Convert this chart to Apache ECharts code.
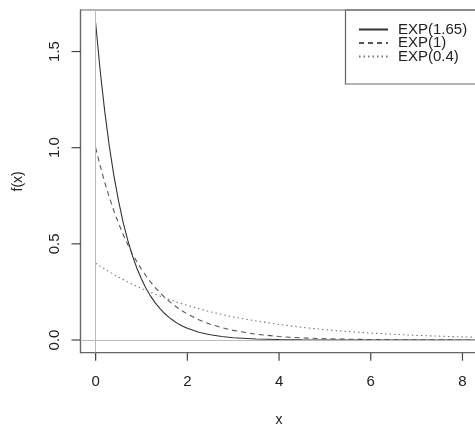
<!DOCTYPE html>
<html>
<head>
<meta charset="utf-8">
<script src="https://cdn.jsdelivr.net/npm/echarts@6/dist/echarts.min.js"></script>
<style>
html,body{margin:0;padding:0;background:#fff;}
#chart{width:475px;height:424px;}
</style>
</head>
<body>
<div id="chart"></div>
<script>
// x positions of the read-off points
var xValues = [0, 0.1, 0.2, 0.3, 0.4, 0.5, 0.6, 0.7, 0.8, 0.9, 1.0, 1.1, 1.2, 1.3, 1.4, 1.5, 1.6, 1.7, 1.8, 1.9, 2.0, 2.25, 2.5, 2.75, 3, 3.5, 4, 4.5, 5, 5.5, 6, 6.5, 7, 7.5, 8, 8.5];
// density values
var exp165 = [1.65, 1.399, 1.186, 1.005, 0.852, 0.723, 0.612, 0.519, 0.440, 0.373, 0.317, 0.268, 0.228, 0.193, 0.164, 0.139, 0.118, 0.100, 0.084, 0.072, 0.061, 0.040, 0.027, 0.018, 0.012, 0.0052, 0.0023, 0.0010, 0.0004, 0.0002, 0.0001, 0, 0, 0, 0, 0];
var exp1 = [1, 0.905, 0.819, 0.741, 0.670, 0.607, 0.549, 0.497, 0.449, 0.407, 0.368, 0.333, 0.301, 0.273, 0.247, 0.223, 0.202, 0.183, 0.165, 0.150, 0.135, 0.105, 0.082, 0.064, 0.050, 0.030, 0.018, 0.011, 0.0067, 0.0041, 0.0025, 0.0015, 0.0009, 0.0006, 0.0003, 0.0002];
var exp04 = [0.4, 0.384, 0.369, 0.355, 0.341, 0.327, 0.315, 0.302, 0.290, 0.279, 0.268, 0.258, 0.248, 0.238, 0.229, 0.220, 0.211, 0.203, 0.195, 0.187, 0.180, 0.163, 0.147, 0.133, 0.120, 0.099, 0.081, 0.066, 0.054, 0.044, 0.036, 0.030, 0.024, 0.020, 0.016, 0.013];
var seriesNames = ['EXP(1.65)', 'EXP(1)', 'EXP(0.4)'];
var xTicks = [0, 2, 4, 6, 8];
var yTicks = [0, 0.5, 1.0, 1.5];
var X_MIN = -0.33, X_MAX = 8.33, Y_MIN = -0.066, Y_MAX = 1.716;

function pairs(ys) { return xValues.map(function (x, i) { return [x, ys[i]]; }); }

var FONT = '"Liberation Sans", Arial, Helvetica, sans-serif';
var chart = echarts.init(document.getElementById('chart'), null, {renderer: 'canvas'});

function mkSeries(name, ys, type, color) {
  return {
    name: name, type: 'line', data: pairs(ys), symbol: 'none', showSymbol: false,
    smooth: false, silent: true, z: 3,
    lineStyle: {color: color, width: 1.1, type: type},
    itemStyle: {color: color}
  };
}

chart.setOption({
  animation: false,
  grid: {left: 80.5, top: 10, right: -2.6, bottom: 71.3, show: true, outerBoundsMode: 'none', borderColor: '#666', borderWidth: 1.2},
  xAxis: {
    type: 'value', min: X_MIN, max: X_MAX,
    name: 'x', nameLocation: 'middle', nameGap: 60,
    nameTextStyle: {fontFamily: FONT, fontSize: 14, color: '#222'},
    axisLine: {show: true, onZero: false, lineStyle: {color: '#666', width: 1.2}},
    splitLine: {show: false},
    axisTick: {show: false},
    axisLabel: {show: true, customValues: xTicks, margin: 22, fontFamily: FONT, fontSize: 15, color: '#222'}
  },
  yAxis: {
    type: 'value', min: Y_MIN, max: Y_MAX,
    name: 'f(x)', nameLocation: 'middle', nameGap: 55, nameRotate: 90,
    nameTextStyle: {fontFamily: FONT, fontSize: 14, color: '#222'},
    axisLine: {show: true, onZero: false, lineStyle: {color: '#666', width: 1.2}},
    splitLine: {show: false},
    axisTick: {show: false},
    axisLabel: {show: true, customValues: yTicks, margin: 18, rotate: 90, fontFamily: FONT, fontSize: 15, color: '#222',
      formatter: function (v) { return v.toFixed(1); }}
  },
  legend: {
    orient: 'vertical', left: 358, top: 22, itemWidth: 29, itemHeight: 8, itemGap: -1.5,
    padding: 0, selectedMode: false,
    itemStyle: {opacity: 0, borderWidth: 0},
    textStyle: {fontFamily: FONT, fontSize: 15, color: '#222', lineHeight: 13, padding: [0, 0, 0, 5]},
    data: seriesNames
  },
  graphic: [
    {id: 'legendBox', type: 'rect', shape: {x: 345.5, y: 10, width: 140, height: 74}, style: {fill: 'none', stroke: '#666', lineWidth: 1.2}, z: 10, silent: true}
  ],
  series: [
    mkSeries(seriesNames[0], exp165, 'solid', '#333'),
    mkSeries(seriesNames[1], exp1, [5, 4], '#555'),
    mkSeries(seriesNames[2], exp04, [1.5, 3], '#777'),
    {
      type: 'line', data: [], silent: true,
      markLine: {
        silent: true, symbol: 'none', label: {show: false},
        lineStyle: {color: '#bbb', width: 1, type: 'solid'},
        data: [{xAxis: 0}, {yAxis: 0}]
      }
    }
  ]
});

// Axis tick marks, placed through the chart's own scales
var tickGraphics = [];
var corner = chart.convertToPixel({gridIndex: 0}, [X_MIN, Y_MIN]);
xTicks.forEach(function (v, i) {
  var p = chart.convertToPixel({gridIndex: 0}, [v, Y_MIN]);
  tickGraphics.push({id: 'xt' + i, type: 'line', silent: true, z: 10,
    shape: {x1: p[0], y1: corner[1], x2: p[0], y2: corner[1] + 8},
    style: {stroke: '#444', lineWidth: 1.2}});
});
yTicks.forEach(function (v, i) {
  var p = chart.convertToPixel({gridIndex: 0}, [X_MIN, v]);
  tickGraphics.push({id: 'yt' + i, type: 'line', silent: true, z: 10,
    shape: {x1: corner[0] - 9, y1: p[1], x2: corner[0], y2: p[1]},
    style: {stroke: '#444', lineWidth: 1.2}});
});
chart.setOption({graphic: tickGraphics});
</script>
</body>
</html>
